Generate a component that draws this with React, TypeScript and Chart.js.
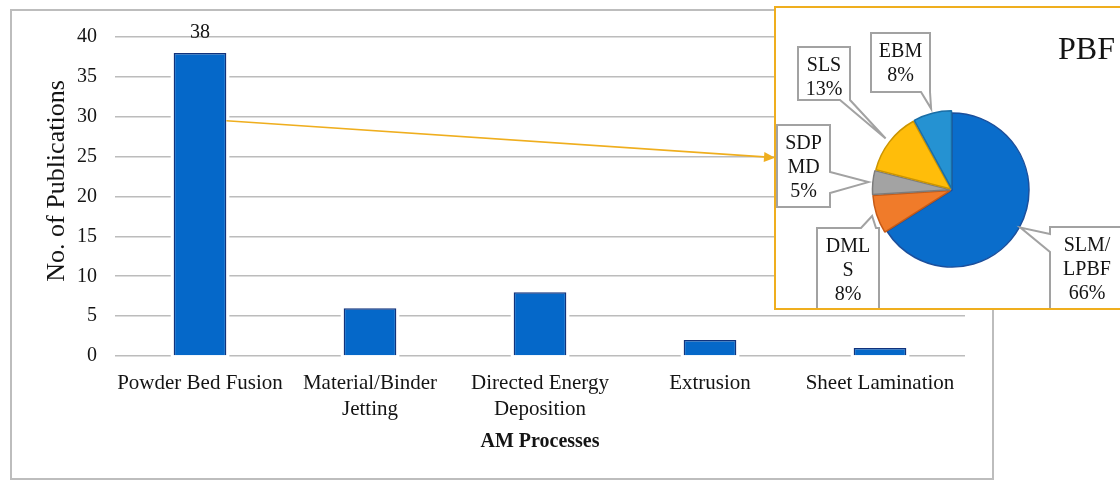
import React, { useEffect, useRef } from "react";
import { Chart, registerables } from "chart.js";

Chart.register(...registerables);

// ---- data ----
const processes: string[][] = [
  ["Powder Bed Fusion"],
  ["Material/Binder", "Jetting"],
  ["Directed Energy", "Deposition"],
  ["Extrusion"],
  ["Sheet Lamination"],
];
const publications = [38, 6, 8, 2, 1];
const yMin = 0;
const yMax = 40;
const yStep = 5;
const labelledBars = [0];

const pbfMethods = ["SLM/LPBF", "DMLS", "SDPMD", "SLS", "EBM"];
const pbfNameLines: string[][] = [["SLM/", "LPBF"], ["DML", "S"], ["SDP", "MD"], ["SLS"], ["EBM"]];
const pbfShares = [66, 8, 5, 13, 8];

// arrow from the PBF bar to the breakdown inset (value levels on the y scale)
const arrowSourceIndex = 0;
const arrowFromValue = 29.5;
const arrowToValue = 25;

// ---- styling ----
const FONT = "'Liberation Serif', 'Times New Roman', serif";
const TEXT = "#141414";
const BAR_FILL = "#0568c9";
const BAR_EDGE = "#10327c";
const GOLD = "#EFAE1E";
const INSET_LEFT = 774;
const INSET_TOP = 6;

const sliceFill = ["#0a6dcb", "#f07b2a", "#a3a3a3", "#ffbd0a", "#2592d2"];
const sliceEdge = ["#1b4f9c", "#c65a16", "#7c7c7c", "#cc9500", "#1a6ea6"];
const sliceOffset = [0, 6, 6, 6, 6];

// callout boxes, in inset-canvas pixels; wedge base given as [a, b] along the side
type Side = "top" | "right" | "bottom" | "left";
const calloutBoxes: { x: number; y: number; w: number; h: number; side: Side; a: number; b: number }[] = [
  { x: 274, y: 219, w: 74, h: 110, side: "left", a: 226, b: 244 },
  { x: 41, y: 220, w: 62, h: 110, side: "top", a: 85, b: 100 },
  { x: 1, y: 117, w: 53, h: 82, side: "right", a: 164, b: 185 },
  { x: 22, y: 39, w: 52, h: 53, side: "bottom", a: 64, b: 74 },
  { x: 95, y: 25, w: 59, h: 59, side: "bottom", a: 145, b: 154 },
];

const frameBorderPlugin = {
  id: "frameBorder",
  afterDraw(chart: any) {
    const ctx = chart.ctx;
    ctx.save();
    ctx.strokeStyle = "#bdbdbd";
    ctx.lineWidth = 2;
    ctx.strokeRect(11, 10, 982, 469);
    ctx.restore();
  },
};

const barHaloPlugin = {
  id: "barHalo",
  beforeDatasetsDraw(chart: any) {
    const ctx = chart.ctx;
    ctx.save();
    ctx.fillStyle = "#ffffff";
    chart.getDatasetMeta(0).data.forEach((el: any) => {
      const { x, y, base, width } = el.getProps(["x", "y", "base", "width"], true);
      ctx.fillRect(x - width / 2 - 3, y - 3, width + 6, base - y + 5);
    });
    ctx.restore();
  },
};

const barLabelPlugin = {
  id: "barLabel",
  afterDatasetsDraw(chart: any) {
    const ctx = chart.ctx;
    const meta = chart.getDatasetMeta(0);
    ctx.save();
    ctx.font = `20px ${FONT}`;
    ctx.fillStyle = TEXT;
    ctx.textAlign = "center";
    ctx.textBaseline = "alphabetic";
    labelledBars.forEach((i) => {
      const el = meta.data[i];
      ctx.fillText(String(publications[i]), el.x, el.y - 15);
    });
    ctx.restore();
  },
};

const yTitlePlugin = {
  id: "yTitle",
  afterDraw(chart: any) {
    const ctx = chart.ctx;
    ctx.save();
    ctx.translate(57, 181);
    ctx.rotate(-Math.PI / 2);
    ctx.font = `26px ${FONT}`;
    ctx.fillStyle = TEXT;
    ctx.textAlign = "center";
    ctx.textBaseline = "middle";
    ctx.fillText("No. of Publications", 0, 0);
    ctx.restore();
  },
};

const arrowPlugin = {
  id: "pbfArrow",
  afterDatasetsDraw(chart: any) {
    const ctx = chart.ctx;
    const el = chart.getDatasetMeta(0).data[arrowSourceIndex];
    const ys = chart.scales.y;
    const x0 = el.x + el.width / 2;
    const y0 = ys.getPixelForValue(arrowFromValue);
    const x1 = INSET_LEFT + 1;
    const y1 = ys.getPixelForValue(arrowToValue) + 1;
    const ang = Math.atan2(y1 - y0, x1 - x0);
    const len = 11;
    const half = 5;
    const bx = x1 - Math.cos(ang) * len;
    const by = y1 - Math.sin(ang) * len;
    ctx.save();
    ctx.strokeStyle = GOLD;
    ctx.fillStyle = GOLD;
    ctx.lineWidth = 1.6;
    ctx.beginPath();
    ctx.moveTo(x0, y0);
    ctx.lineTo(bx, by);
    ctx.stroke();
    ctx.beginPath();
    ctx.moveTo(x1, y1);
    ctx.lineTo(bx - Math.sin(ang) * half, by + Math.cos(ang) * half);
    ctx.lineTo(bx + Math.sin(ang) * half, by - Math.cos(ang) * half);
    ctx.closePath();
    ctx.fill();
    ctx.restore();
  },
};

function calloutPath(ctx: CanvasRenderingContext2D, box: (typeof calloutBoxes)[number], tx: number, ty: number) {
  const { x, y, w, h, side, a, b } = box;
  const lo = Math.min(a, b);
  const hi = Math.max(a, b);
  ctx.beginPath();
  ctx.moveTo(x, y);
  if (side === "top") {
    ctx.lineTo(lo, y);
    ctx.lineTo(tx, ty);
    ctx.lineTo(hi, y);
  }
  ctx.lineTo(x + w, y);
  if (side === "right") {
    ctx.lineTo(x + w, lo);
    ctx.lineTo(tx, ty);
    ctx.lineTo(x + w, hi);
  }
  ctx.lineTo(x + w, y + h);
  if (side === "bottom") {
    ctx.lineTo(hi, y + h);
    ctx.lineTo(tx, ty);
    ctx.lineTo(lo, y + h);
  }
  ctx.lineTo(x, y + h);
  if (side === "left") {
    ctx.lineTo(x, hi);
    ctx.lineTo(tx, ty);
    ctx.lineTo(x, lo);
  }
  ctx.closePath();
}

const calloutPlugin = {
  id: "pieCallouts",
  afterDatasetsDraw(chart: any) {
    const ctx = chart.ctx;
    const meta = chart.getDatasetMeta(0);
    ctx.save();
    meta.data.forEach((arc: any, i: number) => {
      const { x, y, startAngle, endAngle, outerRadius } = arc.getProps(
        ["x", "y", "startAngle", "endAngle", "outerRadius"],
        true
      );
      const mid = (startAngle + endAngle) / 2;
      const r = outerRadius + sliceOffset[i] + 1;
      const tx = x + Math.cos(mid) * r;
      const ty = y + Math.sin(mid) * r;
      const box = calloutBoxes[i];
      calloutPath(ctx, box, tx, ty);
      ctx.fillStyle = "#ffffff";
      ctx.fill();
      ctx.strokeStyle = "#a2a2a2";
      ctx.lineWidth = 2;
      ctx.lineJoin = "miter";
      ctx.stroke();

      const lines = [...pbfNameLines[i], `${pbfShares[i]}%`];
      ctx.fillStyle = TEXT;
      ctx.font = `20px ${FONT}`;
      ctx.textAlign = "center";
      ctx.textBaseline = "middle";
      const cx = box.x + box.w / 2;
      lines.forEach((t, k) => {
        ctx.fillText(t, cx, box.y + 19 + k * 24);
      });
    });
    ctx.restore();
  },
};

const pieTitlePlugin = {
  id: "pieTitle",
  afterDraw(chart: any) {
    const ctx = chart.ctx;
    ctx.save();
    ctx.font = `32px ${FONT}`;
    ctx.fillStyle = TEXT;
    ctx.textAlign = "right";
    ctx.textBaseline = "middle";
    ctx.fillText("PBF", 339, 43);
    ctx.restore();
  },
};

export default function App() {
  const barRef = useRef<HTMLCanvasElement>(null);
  const pieRef = useRef<HTMLCanvasElement>(null);

  useEffect(() => {
    const bar = new Chart(barRef.current as HTMLCanvasElement, {
      type: "bar",
      data: {
        labels: processes,
        datasets: [
          {
            data: publications,
            backgroundColor: BAR_FILL,
            borderColor: BAR_EDGE,
            borderWidth: 1.5,
            barPercentage: 0.31,
            categoryPercentage: 1,
          },
        ],
      },
      options: {
        animation: false,
        responsive: false,
        layout: { padding: { left: 11, top: 37, right: 155, bottom: 24 } },
        plugins: { legend: { display: false }, tooltip: { enabled: false } },
        scales: {
          x: {
            grid: { display: false, drawTicks: false },
            border: { display: false },
            ticks: {
              font: { family: FONT, size: 21, lineHeight: 1.25 },
              color: TEXT,
              padding: 14,
              maxRotation: 0,
              autoSkip: false,
            },
            title: {
              display: true,
              text: "AM Processes",
              font: { family: FONT, size: 20, weight: "bold", lineHeight: 1.2 },
              color: TEXT,
              padding: { top: 0, bottom: 2 },
            },
            afterFit: (s: any) => {
              s.height = 100;
            },
          },
          y: {
            min: yMin,
            max: yMax,
            ticks: { stepSize: yStep, font: { family: FONT, size: 20 }, color: TEXT, padding: 18 },
            grid: { color: "#bcbcbc", lineWidth: 1.6, drawTicks: false },
            border: { display: false },
            afterFit: (s: any) => {
              s.width = 104;
            },
          },
        },
      },
      plugins: [barHaloPlugin, barLabelPlugin, arrowPlugin, yTitlePlugin, frameBorderPlugin],
    } as any);

    const pie = new Chart(pieRef.current as HTMLCanvasElement, {
      type: "pie",
      data: {
        labels: pbfMethods,
        datasets: [
          {
            data: pbfShares,
            backgroundColor: sliceFill,
            borderColor: sliceEdge,
            borderWidth: 1.5,
            offset: sliceOffset,
            radius: 77,
          },
        ],
      },
      options: {
        animation: false,
        responsive: false,
        layout: { padding: { left: 96, right: 94, top: 102, bottom: 38 } },
        plugins: { legend: { display: false }, tooltip: { enabled: false } },
      },
      plugins: [calloutPlugin, pieTitlePlugin],
    } as any);

    return () => {
      bar.destroy();
      pie.destroy();
    };
  }, []);

  return (
    <div
      style={{
        position: "fixed",
        left: 0,
        top: 0,
        width: 1120,
        height: 480,
        overflow: "hidden",
        background: "#ffffff",
      }}
    >
      <canvas ref={barRef} width={1120} height={480} style={{ position: "absolute", left: 0, top: 0 }} />
      <div
        style={{
          position: "absolute",
          left: INSET_LEFT,
          top: INSET_TOP,
          width: 360,
          height: 300,
          border: `2px solid ${GOLD}`,
          background: "#ffffff",
        }}
      >
        <canvas ref={pieRef} width={350} height={300} style={{ position: "absolute", left: 0, top: 0 }} />
      </div>
    </div>
  );
}
